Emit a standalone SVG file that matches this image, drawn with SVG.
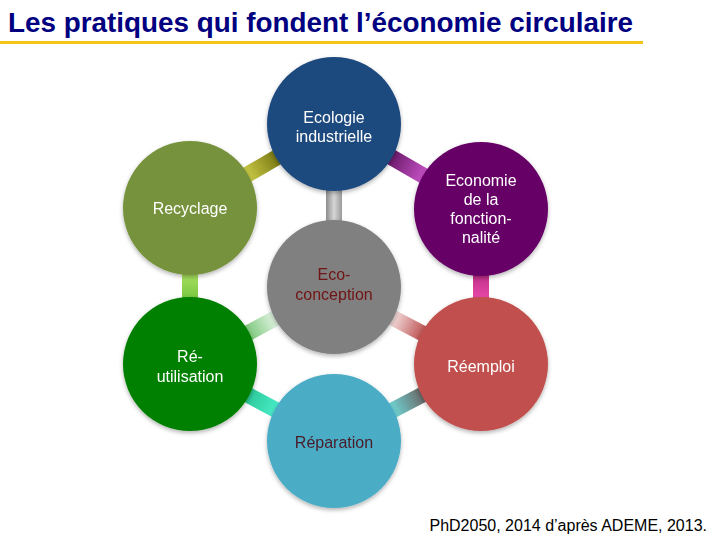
<svg xmlns="http://www.w3.org/2000/svg" width="720" height="540" viewBox="0 0 720 540">
<style>
.title{font-family:"Liberation Sans",Arial,sans-serif;font-weight:bold;font-size:28px;fill:#000080}
.lbl{font-family:"Liberation Sans",Arial,sans-serif;font-size:16px;fill:#ffffff;text-anchor:middle}
.dark{fill:#701212}
.foot{font-family:"Liberation Sans",Arial,sans-serif;font-size:16px;fill:#000000;text-anchor:end}
.bar{stroke-width:16;fill:none}
.node{filter:url(#sh)}
</style>
<defs>
<filter id="sh" x="-20%" y="-20%" width="140%" height="150%">
<feDropShadow dx="0" dy="2" stdDeviation="2" flood-color="#000" flood-opacity="0.3"/>
</filter>
<linearGradient id="gRecy" gradientUnits="userSpaceOnUse" x1="277" y1="157" x2="247" y2="175">
<stop offset="0" stop-color="#7a7a14"/><stop offset="1" stop-color="#c8c846"/>
</linearGradient>
<linearGradient id="gEcon" gradientUnits="userSpaceOnUse" x1="391" y1="157" x2="424" y2="176">
<stop offset="0" stop-color="#6a1a6a"/><stop offset="1" stop-color="#c450c4"/>
</linearGradient>
<linearGradient id="gConc" gradientUnits="userSpaceOnUse" x1="326" y1="0" x2="342" y2="0">
<stop offset="0" stop-color="#8c8c8c"/><stop offset="0.5" stop-color="#d6d6d6"/><stop offset="1" stop-color="#9a9a9a"/>
</linearGradient>
<linearGradient id="gRR" gradientUnits="userSpaceOnUse" x1="0" y1="274" x2="0" y2="298">
<stop offset="0" stop-color="#a8e060"/><stop offset="1" stop-color="#78c840"/>
</linearGradient>
<linearGradient id="gER" gradientUnits="userSpaceOnUse" x1="0" y1="275" x2="0" y2="298">
<stop offset="0" stop-color="#c0308a"/><stop offset="1" stop-color="#e848a8"/>
</linearGradient>
<linearGradient id="gCReu" gradientUnits="userSpaceOnUse" x1="276" y1="318" x2="248" y2="333">
<stop offset="0" stop-color="#e4f4e4"/><stop offset="1" stop-color="#7cc87c"/>
</linearGradient>
<linearGradient id="gCRee" gradientUnits="userSpaceOnUse" x1="392" y1="318" x2="422" y2="333">
<stop offset="0" stop-color="#f4e0e0"/><stop offset="1" stop-color="#c05858"/>
</linearGradient>
<linearGradient id="gRP" gradientUnits="userSpaceOnUse" x1="248" y1="395" x2="276" y2="410">
<stop offset="0" stop-color="#2cc898"/><stop offset="1" stop-color="#48ecc8"/>
</linearGradient>
<linearGradient id="gPR" gradientUnits="userSpaceOnUse" x1="392" y1="410" x2="422" y2="395">
<stop offset="0" stop-color="#70d4d4"/><stop offset="1" stop-color="#6a6a6a"/>
</linearGradient>
</defs>
<rect width="720" height="540" fill="#ffffff"/>
<g id="header">
<text class="title" x="8" y="32" textLength="625" lengthAdjust="spacingAndGlyphs">Les pratiques qui fondent l’économie circulaire</text>
<rect x="0" y="41" width="643" height="3" fill="#f5c518"/>
</g>
<g id="connectors">
<line class="bar" x1="334" y1="124" x2="190" y2="208" stroke="url(#gRecy)"/>
<line class="bar" x1="334" y1="124" x2="481" y2="209" stroke="url(#gEcon)"/>
<line class="bar" x1="334" y1="124" x2="334" y2="287" stroke="url(#gConc)"/>
<line class="bar" x1="190" y1="208" x2="190" y2="364" stroke="url(#gRR)"/>
<line class="bar" x1="481" y1="209" x2="481" y2="364" stroke="url(#gER)"/>
<line class="bar" x1="334" y1="287" x2="190" y2="364" stroke="url(#gCReu)"/>
<line class="bar" x1="334" y1="287" x2="481" y2="364" stroke="url(#gCRee)"/>
<line class="bar" x1="190" y1="364" x2="334" y2="441" stroke="url(#gRP)"/>
<line class="bar" x1="334" y1="441" x2="481" y2="364" stroke="url(#gPR)"/>
</g>
<g id="ecologie" class="node">
<circle cx="334" cy="124" r="67" fill="#1f4a7e"/>
<text class="lbl" x="334" y="123">Ecologie</text>
<text class="lbl" x="334" y="142">industrielle</text>
</g>
<g id="recyclage" class="node">
<circle cx="190" cy="208" r="67" fill="#76923c"/>
<text class="lbl" x="190" y="214">Recyclage</text>
</g>
<g id="economie" class="node">
<circle cx="481" cy="209" r="67" fill="#660066"/>
<text class="lbl" x="481" y="186">Economie</text>
<text class="lbl" x="481" y="205">de la</text>
<text class="lbl" x="481" y="224">fonction-</text>
<text class="lbl" x="481" y="243">nalité</text>
</g>
<g id="ecoconception" class="node">
<circle cx="334" cy="287" r="67" fill="#808080"/>
<text class="lbl dark" x="334" y="280">Eco-</text>
<text class="lbl dark" x="334" y="300">conception</text>
</g>
<g id="reutilisation" class="node">
<circle cx="190" cy="364" r="67" fill="#008000"/>
<text class="lbl" x="190" y="362">Ré-</text>
<text class="lbl" x="190" y="382">utilisation</text>
</g>
<g id="reemploi" class="node">
<circle cx="481" cy="364" r="67" fill="#c0504d"/>
<text class="lbl" x="481" y="372">Réemploi</text>
</g>
<g id="reparation" class="node">
<circle cx="334" cy="441" r="67" fill="#4bacc6"/>
<text class="lbl" x="334" y="448" style="fill:#4a1c28">Réparation</text>
</g>
<g id="footer">
<text class="foot" x="707" y="531">PhD2050, 2014 d’après ADEME, 2013.</text>
</g>
</svg>
